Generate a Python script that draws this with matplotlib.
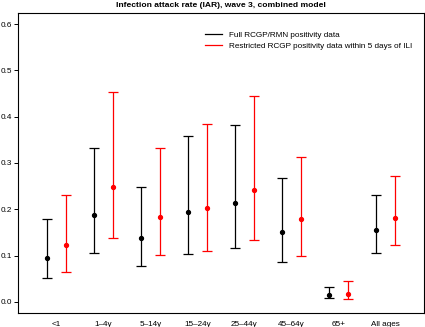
#!/usr/bin/env python3
import matplotlib

matplotlib.use("agg")
import matplotlib.pyplot as plt
import numpy as np

plt.rcParams["font.family"] = ["Liberation Sans", "DejaVu Sans"]

groups = ["<1", "1\u20134y", "5\u201314y", "15\u201324y", "25\u201344y", "45\u201364y", "65+", "All ages"]

# full RCGP/RMN positivity data: median, lower, upper
full_mid = [0.095, 0.188, 0.138, 0.194, 0.214, 0.151, 0.0155, 0.155]
full_lo = [0.051, 0.106, 0.078, 0.103, 0.116, 0.087, 0.008, 0.106]
full_hi = [0.180, 0.333, 0.248, 0.358, 0.382, 0.268, 0.032, 0.230]

# restricted RCGP positivity data within 5 days of ILI
restr_mid = [0.122, 0.249, 0.184, 0.203, 0.241, 0.178, 0.017, 0.181]
restr_lo = [0.064, 0.137, 0.102, 0.110, 0.134, 0.099, 0.006, 0.122]
restr_hi = [0.230, 0.454, 0.333, 0.384, 0.444, 0.314, 0.046, 0.271]


def main() -> int:
    fs = 5.9
    fig = plt.figure(figsize=(4.25, 3.27), dpi=100)
    ax = fig.add_axes([18 / 425, 14 / 327, 406 / 425, 300 / 327])

    x = np.arange(1, len(groups) + 1)
    for xs, mid, lo, hi, col in [
        (x - 0.2, full_mid, full_lo, full_hi, "black"),
        (x + 0.2, restr_mid, restr_lo, restr_hi, "red"),
    ]:
        mid = np.array(mid)
        err = [mid - np.array(lo), np.array(hi) - mid]
        ax.errorbar(xs, mid, yerr=err, fmt="o", color=col, ms=2.8,
                    elinewidth=0.9, capsize=3.3, capthick=0.9)

    ax.plot([], [], color="black", lw=0.9, label="Full RCGP/RMN positivity data")
    ax.plot([], [], color="red", lw=0.9, label="Restricted RCGP positivity data within 5 days of ILI")
    ax.legend(loc="upper left", bbox_to_anchor=(205 / 425, 1 - 31 / 327),
              bbox_transform=fig.transFigure, frameon=False, fontsize=fs,
              handlelength=2.05, handletextpad=0.85, labelspacing=0.45,
              borderaxespad=0, borderpad=0)

    ax.set_xlim(0.18, 8.82)
    ax.set_ylim(-0.024, 0.624)
    ax.set_xticks(x)
    ax.set_xticklabels(groups, fontsize=fs)
    ax.tick_params(axis="x", length=0, pad=5.5)
    ax.set_yticks(np.arange(0, 0.61, 0.1))
    ax.set_yticklabels([f"{v:.1f}" for v in np.arange(0, 0.61, 0.1)], fontsize=fs)
    ax.tick_params(axis="y", length=3, width=0.7, pad=1.2)
    for s in ax.spines.values():
        s.set_linewidth(0.8)

    fig.suptitle("Infection attack rate (IAR), wave 3, combined model", fontsize=6.1,
                 fontweight="bold", x=221 / 425, y=0.995, va="top")
    fig.savefig("out.png", dpi=100)
    plt.close(fig)
    return 0


if __name__ == "__main__":
    raise SystemExit(main())
